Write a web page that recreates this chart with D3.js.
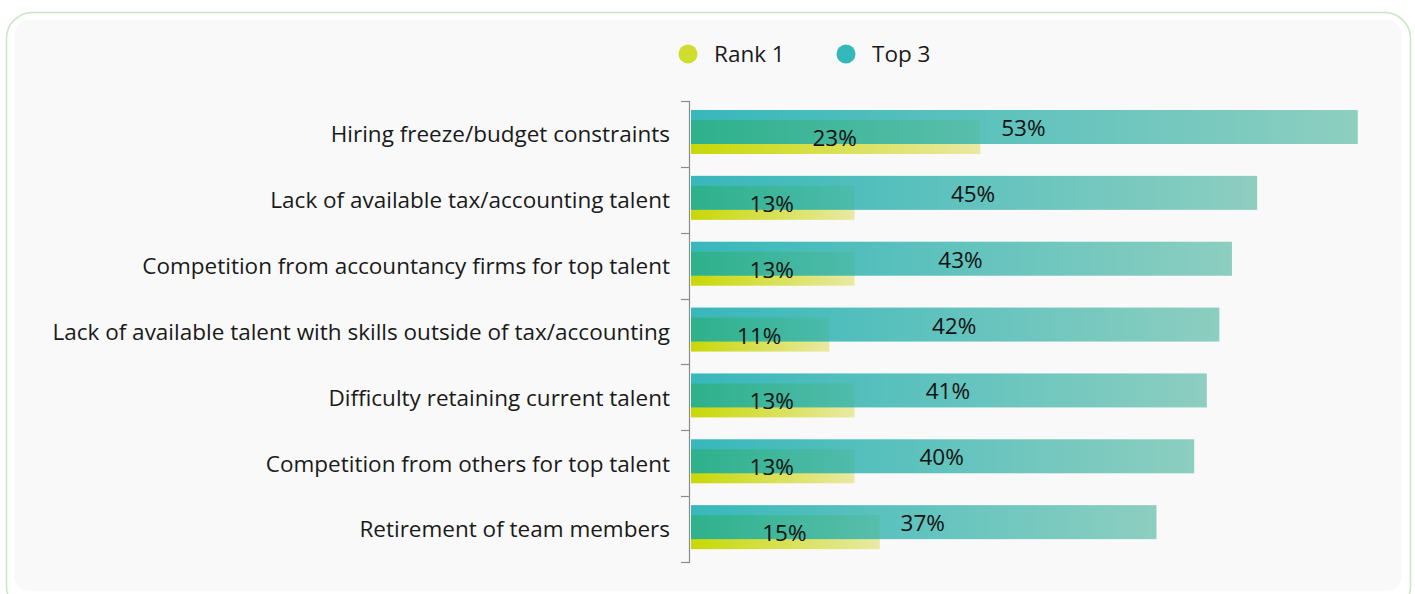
<!DOCTYPE html>
<html>
<head>
<meta charset="utf-8">
<script src="https://cdn.jsdelivr.net/npm/d3@7"></script>
<style>
    html, body { margin: 0; padding: 0; background: #ffffff; }
    svg { display: block; font-family: 'Open Sans', 'Noto Sans', sans-serif; }
</style>
</head>
<body>
<svg id="chart"></svg>
<script>
// Chart data.
const categories = [
    'Hiring freeze/budget constraints',
    'Lack of available tax/accounting talent',
    'Competition from accountancy firms for top talent',
    'Lack of available talent with skills outside of tax/accounting',
    'Difficulty retaining current talent',
    'Competition from others for top talent',
    'Retirement of team members',
];
const rank1Values = [23, 13, 13, 11, 13, 13, 15];
const top3Values = [53, 45, 43, 42, 41, 40, 37];
const seriesNames = ['Rank 1', 'Top 3'];

const width = 1415;
const height = 594;
const marginLeft = 690;
const marginTop = 101;
const plotBottom = 562;
const fontSize = 22.5;

const svg = d3.select('#chart').attr('width', width).attr('height', height);

// Card background.
svg.append('rect')
    .attr('x', 6.5).attr('y', 12.5)
    .attr('width', 1404).attr('height', 600)
    .attr('rx', 26)
    .attr('fill', '#ffffff')
    .attr('stroke', '#c9e6c2')
    .attr('stroke-width', 1.5);

svg.append('rect')
    .attr('x', 14).attr('y', 20)
    .attr('width', 1388).attr('height', 571)
    .attr('rx', 16)
    .attr('fill', '#f9f9f9');

// Gradients.
const defs = svg.append('defs');
const rankGrad = defs.append('linearGradient').attr('id', 'gradRank').attr('x1', 0).attr('x2', 1).attr('y1', 0).attr('y2', 0);
rankGrad.append('stop').attr('offset', '0%').attr('stop-color', '#c8d806');
rankGrad.append('stop').attr('offset', '100%').attr('stop-color', '#e9e9a2');

const topGrad = defs.append('linearGradient').attr('id', 'gradTop').attr('x1', 0).attr('x2', 1).attr('y1', 0).attr('y2', 0);
topGrad.append('stop').attr('offset', '0%').attr('stop-color', '#08a8ad');
topGrad.append('stop').attr('offset', '100%').attr('stop-color', '#72c4b2');

// Scales.
const x = d3.scaleLinear().domain([0, 56]).range([marginLeft, marginLeft + 56 * 12.58]);
const y = d3.scaleBand().domain(categories).range([marginTop, plotBottom]);
const barH = 34;

// Rank 1 bars (underneath).
svg.append('g')
    .selectAll('rect')
    .data(categories)
    .join('rect')
    .attr('x', x(0) + 1)
    .attr('y', c => y(c) + 19)
    .attr('width', (c, i) => x(rank1Values[i]) - x(0))
    .attr('height', barH)
    .attr('fill', 'url(#gradRank)');

// Top 3 bars (translucent, on top).
svg.append('g')
    .attr('opacity', 0.8)
    .selectAll('rect')
    .data(categories)
    .join('rect')
    .attr('x', x(0) + 1)
    .attr('y', c => y(c) + 9)
    .attr('width', (c, i) => x(top3Values[i]) - x(0))
    .attr('height', barH)
    .attr('fill', 'url(#gradTop)');

// Value labels.
svg.append('g')
    .selectAll('text')
    .data(categories)
    .join('text')
    .attr('x', (c, i) => (x(0) + x(top3Values[i])) / 2)
    .attr('y', c => y(c) + 9 + barH / 2)
    .attr('dy', '0.4em')
    .attr('text-anchor', 'middle')
    .attr('font-size', fontSize)
    .attr('fill', '#111')
    .text((c, i) => `${top3Values[i]}%`);

svg.append('g')
    .selectAll('text')
    .data(categories)
    .join('text')
    .attr('x', (c, i) => (x(0) + x(rank1Values[i])) / 2)
    .attr('y', c => y(c) + 19 + barH / 2)
    .attr('dy', '0.4em')
    .attr('text-anchor', 'middle')
    .attr('font-size', fontSize)
    .attr('fill', '#111')
    .text((c, i) => `${rank1Values[i]}%`);

// Y axis: line with ticks on band boundaries.
const axis = svg.append('g').attr('stroke', '#8c8c8c').attr('stroke-width', 1.2);
axis.append('line')
    .attr('x1', marginLeft - 0.5).attr('x2', marginLeft - 0.5)
    .attr('y1', marginTop).attr('y2', plotBottom);
axis.selectAll('.tick')
    .data(categories.map(c => y(c)).concat([plotBottom]))
    .join('line')
    .attr('x1', marginLeft - 9).attr('x2', marginLeft)
    .attr('y1', d => Math.round(d) + 0.5).attr('y2', d => Math.round(d) + 0.5);

// Category labels.
svg.append('g')
    .selectAll('text')
    .data(categories)
    .join('text')
    .attr('x', marginLeft - 20)
    .attr('y', c => y(c) + y.bandwidth() / 2)
    .attr('dy', '0.37em')
    .attr('text-anchor', 'end')
    .attr('font-size', fontSize)
    .attr('fill', '#1a1a1a')
    .text(c => c);

// Legend.
const legendColors = ['#cfdd2f', '#33b9b9'];
const legendX = [688, 846];
const legend = svg.append('g')
    .selectAll('g')
    .data(seriesNames)
    .join('g')
    .attr('transform', (d, i) => `translate(${legendX[i]}, 54)`);
legend.append('circle').attr('r', 9.5).attr('fill', (d, i) => legendColors[i]);
legend.append('text')
    .attr('x', 26)
    .attr('dy', '0.36em')
    .attr('font-size', fontSize)
    .attr('fill', '#1a1a1a')
    .text(d => d);
</script>
</body>
</html>
